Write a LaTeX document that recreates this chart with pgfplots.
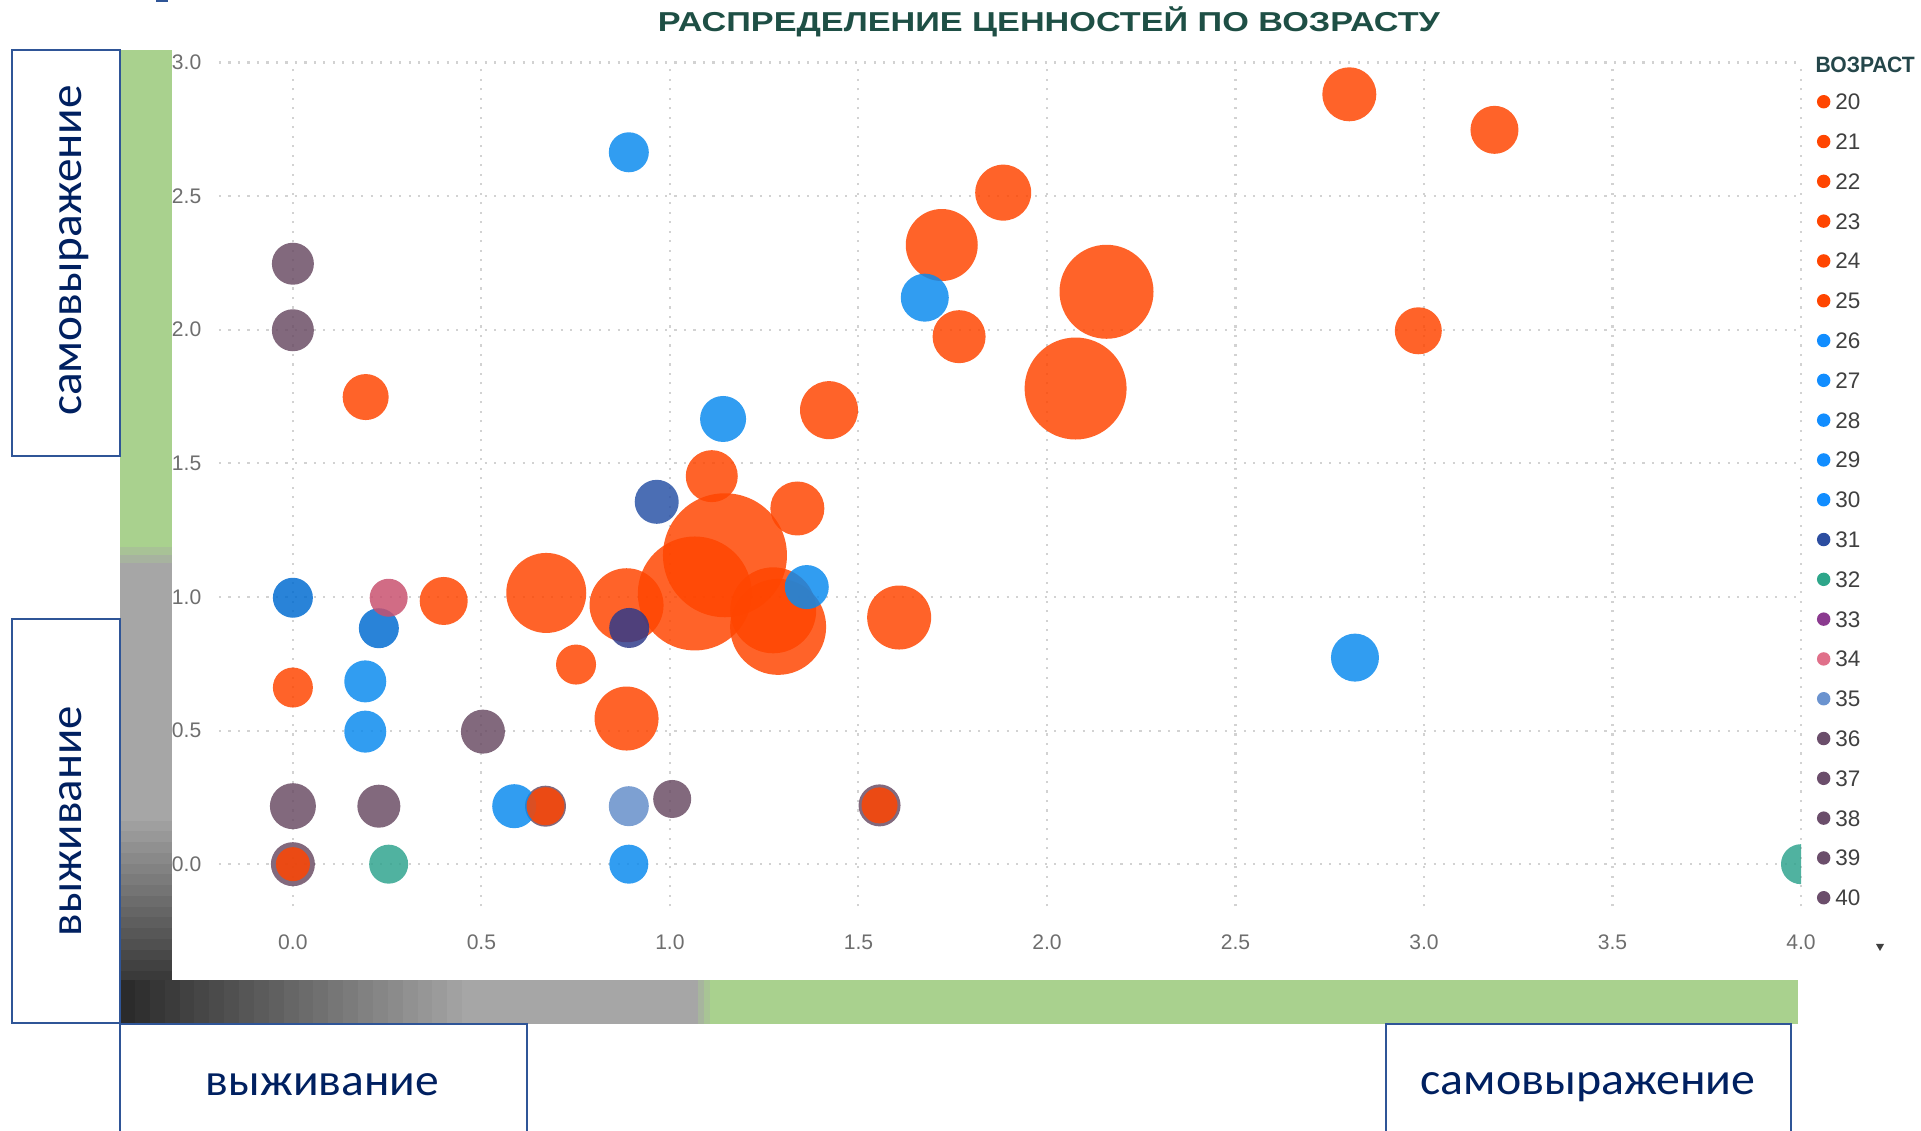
\documentclass[border=0pt]{standalone}
\usepackage{pgfplots}
\pgfplotsset{compat=1.18}
\usepackage{fontspec}
\setmainfont{Liberation Sans}
\newfontfamily\carlito{Carlito}

\definecolor{cOr}{HTML}{FF4500}
\definecolor{cBl}{HTML}{0A8AEE}
\definecolor{cBd}{HTML}{006BD0}
\definecolor{cNv}{HTML}{2952A6}
\definecolor{cNv2}{HTML}{2E3A8A}
\definecolor{cTl}{HTML}{2FA38E}
\definecolor{cPk}{HTML}{C8506E}
\definecolor{cLb}{HTML}{648EC9}
\definecolor{cMv}{HTML}{6A4C64}
\definecolor{lOr}{HTML}{FF4500}
\definecolor{lBl}{HTML}{118DFF}
\definecolor{lNv}{HTML}{2C4DA0}
\definecolor{lTl}{HTML}{2EA68A}
\definecolor{lPu}{HTML}{8B3A8F}
\definecolor{lPk}{HTML}{E0708A}
\definecolor{lLb}{HTML}{6B93CF}
\definecolor{lMv}{HTML}{6B4E6B}
\definecolor{cGreen}{HTML}{A9D18E}
\definecolor{cGrayB}{HTML}{A6A6A6}
\definecolor{cDark}{HTML}{3A3A3A}
\definecolor{cDark2}{HTML}{2B2B2B}
\definecolor{cBox}{HTML}{2F5597}
\definecolor{cNavy}{HTML}{002060}
\definecolor{cTitle}{HTML}{1E4F45}
\definecolor{cLegTitle}{HTML}{24464A}
\definecolor{cGrid}{HTML}{D2D2D2}
\definecolor{cTick}{HTML}{6E6E6E}
\definecolor{cLegText}{HTML}{404040}

\pgfplotsset{
  bub/.style={scatter, only marks, mark=*, forget plot,
    mark options={draw opacity=0},
    scatter/use mapped color={draw=#1, fill=#1, fill opacity=0.84, draw opacity=0},
    visualization depends on={0.28453*\thisrow{r} \as \rr},
    scatter/@pre marker code/.append style={/tikz/mark size=\rr pt}},
  leg/.style={legend image code/.code={\fill[#1] (0.06cm,0cm) circle (0.06cm);}},
}

\begin{document}
\begin{tikzpicture}
\useasboundingbox (0,0) rectangle (19.21,11.31);

% small fragment top left
\fill[cBox] (1.56,11.29) rectangle (1.68,11.31);

% vertical bar (stepped gradient)
\fill[cGreen] (1.20,5.82) rectangle (1.72,10.81);
\fill[cGrayB!35!cGreen] (1.20,5.74) rectangle (1.72,5.84);
\fill[cGrayB!70!cGreen] (1.20,5.66) rectangle (1.72,5.76);
\fill[cGrayB] (1.20,3.19) rectangle (1.72,5.68);
\foreach \i in {0,...,15}{
  \pgfmathsetmacro\p{100*\i/15}
  \pgfmathsetmacro\ya{1.49+0.1075*\i}
  \pgfmathsetmacro\yb{\ya+0.1175}
  \fill[cGrayB!\p!cDark] (1.20,\ya) rectangle (1.72,\yb);
}

% horizontal bar (stepped gradient)
\foreach \i in {0,...,23}{
  \pgfmathsetmacro\p{100*\i/23}
  \pgfmathsetmacro\xa{1.20+0.1488*\i}
  \pgfmathsetmacro\xb{\xa+0.1588}
  \fill[cGrayB!\p!cDark2] (\xa,1.07) rectangle (\xb,1.51);
}
\fill[cGrayB] (4.77,1.07) rectangle (7.00,1.51);
\fill[cGrayB!65!cGreen] (6.98,1.07) rectangle (7.06,1.51);
\fill[cGrayB!30!cGreen] (7.04,1.07) rectangle (7.12,1.51);
\fill[cGreen] (7.10,1.07) rectangle (17.98,1.51);

% boxes
\draw[cBox, line width=0.75pt, fill=white] (0.12,6.75) rectangle (1.20,10.81);
\draw[cBox, line width=0.75pt, fill=white] (0.12,1.08) rectangle (1.20,5.12);
\draw[cBox, line width=0.75pt] (1.20,-0.05) -- (1.20,1.07) -- (5.27,1.07) -- (5.27,-0.05);
\draw[cBox, line width=0.75pt] (13.86,-0.05) -- (13.86,1.07) -- (17.91,1.07) -- (17.91,-0.05);

\node[inner sep=0, anchor=base, text=cNavy, rotate=90] at (0.82,8.805) {\resizebox{3.31cm}{0.22cm}{\carlito самовыражение}};
\node[inner sep=0, anchor=base, text=cNavy, rotate=90] at (0.82,3.10) {\resizebox{2.30cm}{0.22cm}{\carlito выживание}};
\node[inner sep=0, anchor=base, text=cNavy] at (3.225,0.35) {\resizebox{2.33cm}{0.22cm}{\carlito выживание}};
\node[inner sep=0, anchor=base, text=cNavy] at (15.88,0.36) {\resizebox{3.35cm}{0.22cm}{\carlito самовыражение}};

% title
\node[inner sep=0, text=cTitle] at (10.49,11.09) {\scalebox{1}[0.8]{\resizebox{7.82cm}{!}{\bfseries РАСПРЕДЕЛЕНИЕ ЦЕННОСТЕЙ ПО ВОЗРАСТУ}}};

\begin{axis}[
  at={(2.19cm,2.246cm)}, anchor=south west,
  scale only axis, width=15.82cm, height=8.439cm,
  xmin=-0.196, xmax=4, ymin=-0.158, ymax=3,
  axis line style={draw=none},
  major tick length=0pt,
  xtick={0,0.5,1,1.5,2,2.5,3,3.5,4},
  ytick={0,0.5,1,1.5,2,2.5,3},
  grid=major,
  major grid style={line width=0.6pt, dash pattern=on 0.6pt off 2.1pt, color=cGrid},
  ticklabel style={font=\fontsize{6}{7}\selectfont, text=cTick},
  xticklabel style={yshift=-4.5pt},
  yticklabel style={xshift=-1.5pt},
  /pgf/number format/fixed,
  /pgf/number format/fixed zerofill,
  /pgf/number format/precision=1,
  /pgf/number format/assume math mode=true,
  clip marker paths=true,
  legend cell align=left,
  legend style={at={(axis description cs:1.0101,0.9771)}, anchor=north west,
    draw=none, fill=none, inner sep=0pt, outer sep=0pt, row sep=0pt,
    /tikz/column sep=0.05cm,
    font=\fontsize{6.4}{7}\selectfont, text=cLegText,
    nodes={inner sep=0pt, outer sep=0pt, text height=0.279cm, text depth=0.119cm, anchor=west}},
]

% rings / underlying bubbles
\addplot[bub=cMv] table {
x y r
0 0 22
1.556 0.220 21
0.670 0.217 20.5
};
\addplot[bub=cBl] table {
x y r
0.587 0.217 22
};

% ages 20-25
\addplot[bub=cOr] table {
x y r
2.802 2.881 27
3.187 2.748 24
1.884 2.513 28
1.721 2.317 36
2.158 2.142 47
1.767 1.974 26.5
2.985 1.996 23.5
2.076 1.780 51
0.193 1.748 23
1.422 1.699 29
1.111 1.452 26
1.338 1.331 27
1.146 1.156 62
1.066 1.013 57
1.274 0.950 43
1.287 0.888 48
0.885 0.969 37
1.608 0.923 32
0.885 0.545 32
0.672 1.015 40
0.400 0.985 24
0.751 0.747 20
0 0.661 20
0.670 0.217 19
1.556 0.220 18
0 0 17
};

% ages 26-30
\addplot[bub=cBl] table {
x y r
0.891 2.664 20
1.676 2.120 24
1.141 1.666 23
1.363 1.037 22
2.817 0.773 24
0.192 0.684 21
0.192 0.496 21
0.891 0 19.5
};
\addplot[bub=cBd] table {
x y r
0 0.997 20
0.228 0.883 20
};
% age 31
\addplot[bub=cNv] table {
x y r
0.965 1.356 22
};
\addplot[bub=cNv2] table {
x y r
0.892 0.884 20
};
% age 32
\addplot[bub=cTl] table {
x y r
0.254 0 19.5
4.0 0 20
};
% age 34
\addplot[bub=cPk] table {
x y r
0.254 0.997 19
};
% age 35
\addplot[bub=cLb] table {
x y r
0.891 0.217 20
};
% ages 36-40
\addplot[bub=cMv] table {
x y r
0 2.247 21
0 1.998 21
0.504 0.496 22
0 0.217 23
0.228 0.217 21.5
1.006 0.244 19
};

\addlegendimage{leg=lOr}\addlegendentry{20}
\addlegendimage{leg=lOr}\addlegendentry{21}
\addlegendimage{leg=lOr}\addlegendentry{22}
\addlegendimage{leg=lOr}\addlegendentry{23}
\addlegendimage{leg=lOr}\addlegendentry{24}
\addlegendimage{leg=lOr}\addlegendentry{25}
\addlegendimage{leg=lBl}\addlegendentry{26}
\addlegendimage{leg=lBl}\addlegendentry{27}
\addlegendimage{leg=lBl}\addlegendentry{28}
\addlegendimage{leg=lBl}\addlegendentry{29}
\addlegendimage{leg=lBl}\addlegendentry{30}
\addlegendimage{leg=lNv}\addlegendentry{31}
\addlegendimage{leg=lTl}\addlegendentry{32}
\addlegendimage{leg=lPu}\addlegendentry{33}
\addlegendimage{leg=lPk}\addlegendentry{34}
\addlegendimage{leg=lLb}\addlegendentry{35}
\addlegendimage{leg=lMv}\addlegendentry{36}
\addlegendimage{leg=lMv}\addlegendentry{37}
\addlegendimage{leg=lMv}\addlegendentry{38}
\addlegendimage{leg=lMv}\addlegendentry{39}
\addlegendimage{leg=lMv}\addlegendentry{40}
\end{axis}

\node[anchor=west, inner sep=0, text=cLegTitle] at (18.15,10.66) {\resizebox{0.99cm}{0.155cm}{\bfseries ВОЗРАСТ}};
\fill[cLegText] (18.76,1.87) -- (18.84,1.87) -- (18.80,1.80) -- cycle;
\end{tikzpicture}
\end{document}
